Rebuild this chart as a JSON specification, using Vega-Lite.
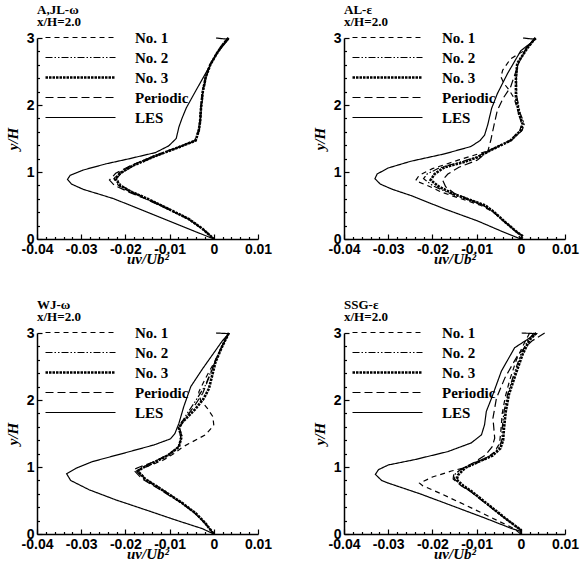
{
"$schema": "https://vega.github.io/schema/vega-lite/v6.json",
"background": "white",
"padding": {"left": 5, "top": 4, "right": 5, "bottom": 2},
"config": {
  "view": {"stroke": null},
  "axis": {"grid": false, "domainColor": "black", "domainWidth": 1.5, "tickColor": "black", "tickWidth": 1.2,
    "labelFont": "Liberation Sans", "labelFontWeight": "bold", "labelFontSize": 14, "labelColor": "black", "labelOverlap": false, "labelFlush": false,
    "titleFont": "Liberation Serif", "titleFontStyle": "italic", "titleFontWeight": "bold", "titleFontSize": 15, "titleColor": "black"},
  "title": {"anchor": "start", "frame": "group", "font": "Liberation Serif", "fontWeight": "bold", "fontSize": 13, "lineHeight": 12, "offset": 1, "color": "black"}
},
"datasets": {"d": [
{"p":"A","s":"LES","x":0.0005,"y":3.0},{"p":"A","s":"LES","x":0.0033,"y":2.98},{"p":"A","s":"LES","x":0.0008,"y":2.78},{"p":"A","s":"LES","x":-0.0011,"y":2.56},{"p":"A","s":"LES","x":-0.0041,"y":2.21},{"p":"A","s":"LES","x":-0.0062,"y":1.96},{"p":"A","s":"LES","x":-0.0072,"y":1.8},{"p":"A","s":"LES","x":-0.0079,"y":1.67},{"p":"A","s":"LES","x":-0.0085,"y":1.5},{"p":"A","s":"LES","x":-0.0102,"y":1.39},{"p":"A","s":"LES","x":-0.0132,"y":1.29},{"p":"A","s":"LES","x":-0.019,"y":1.2},{"p":"A","s":"LES","x":-0.0245,"y":1.12},{"p":"A","s":"LES","x":-0.0295,"y":1.03},{"p":"A","s":"LES","x":-0.0325,"y":0.95},{"p":"A","s":"LES","x":-0.0331,"y":0.89},{"p":"A","s":"LES","x":-0.0322,"y":0.82},{"p":"A","s":"LES","x":-0.0295,"y":0.74},{"p":"A","s":"LES","x":-0.0255,"y":0.66},{"p":"A","s":"LES","x":-0.0226,"y":0.6},{"p":"A","s":"LES","x":-0.0188,"y":0.5},{"p":"A","s":"LES","x":-0.0141,"y":0.375},{"p":"A","s":"LES","x":-0.0094,"y":0.25},{"p":"A","s":"LES","x":-0.0047,"y":0.125},{"p":"A","s":"LES","x":0,"y":0},
{"p":"A","s":"No. 3","x":0.0033,"y":3.0},{"p":"A","s":"No. 3","x":0.0018,"y":2.88},{"p":"A","s":"No. 3","x":0.0006,"y":2.76},{"p":"A","s":"No. 3","x":-0.0008,"y":2.6},{"p":"A","s":"No. 3","x":-0.0018,"y":2.42},{"p":"A","s":"No. 3","x":-0.0025,"y":2.2},{"p":"A","s":"No. 3","x":-0.0029,"y":1.95},{"p":"A","s":"No. 3","x":-0.0031,"y":1.75},{"p":"A","s":"No. 3","x":-0.0034,"y":1.62},{"p":"A","s":"No. 3","x":-0.0041,"y":1.47},{"p":"A","s":"No. 3","x":-0.0079,"y":1.37},{"p":"A","s":"No. 3","x":-0.0132,"y":1.24},{"p":"A","s":"No. 3","x":-0.0185,"y":1.09},{"p":"A","s":"No. 3","x":-0.0212,"y":0.98},{"p":"A","s":"No. 3","x":-0.0223,"y":0.9},{"p":"A","s":"No. 3","x":-0.0212,"y":0.8},{"p":"A","s":"No. 3","x":-0.0185,"y":0.7},{"p":"A","s":"No. 3","x":-0.015,"y":0.6},{"p":"A","s":"No. 3","x":-0.0109,"y":0.47},{"p":"A","s":"No. 3","x":-0.0057,"y":0.3},{"p":"A","s":"No. 3","x":-0.0025,"y":0.15},{"p":"A","s":"No. 3","x":0,"y":0},
{"p":"A","s":"No. 1","x":0.0033,"y":3.0},{"p":"A","s":"No. 1","x":0.0017,"y":2.88},{"p":"A","s":"No. 1","x":0.0005,"y":2.76},{"p":"A","s":"No. 1","x":-0.0009,"y":2.6},{"p":"A","s":"No. 1","x":-0.0019,"y":2.42},{"p":"A","s":"No. 1","x":-0.0026,"y":2.2},{"p":"A","s":"No. 1","x":-0.003,"y":1.95},{"p":"A","s":"No. 1","x":-0.0032,"y":1.75},{"p":"A","s":"No. 1","x":-0.0035,"y":1.62},{"p":"A","s":"No. 1","x":-0.0043,"y":1.47},{"p":"A","s":"No. 1","x":-0.0082,"y":1.37},{"p":"A","s":"No. 1","x":-0.0135,"y":1.24},{"p":"A","s":"No. 1","x":-0.0188,"y":1.09},{"p":"A","s":"No. 1","x":-0.0216,"y":0.98},{"p":"A","s":"No. 1","x":-0.0226,"y":0.9},{"p":"A","s":"No. 1","x":-0.0216,"y":0.8},{"p":"A","s":"No. 1","x":-0.0188,"y":0.7},{"p":"A","s":"No. 1","x":-0.0153,"y":0.6},{"p":"A","s":"No. 1","x":-0.0111,"y":0.47},{"p":"A","s":"No. 1","x":-0.0058,"y":0.3},{"p":"A","s":"No. 1","x":-0.0026,"y":0.15},{"p":"A","s":"No. 1","x":0,"y":0},
{"p":"A","s":"No. 2","x":0.0033,"y":3.0},{"p":"A","s":"No. 2","x":0.0018,"y":2.88},{"p":"A","s":"No. 2","x":0.0006,"y":2.76},{"p":"A","s":"No. 2","x":-0.0008,"y":2.6},{"p":"A","s":"No. 2","x":-0.0017,"y":2.42},{"p":"A","s":"No. 2","x":-0.0024,"y":2.2},{"p":"A","s":"No. 2","x":-0.0028,"y":1.95},{"p":"A","s":"No. 2","x":-0.003,"y":1.75},{"p":"A","s":"No. 2","x":-0.0033,"y":1.62},{"p":"A","s":"No. 2","x":-0.004,"y":1.47},{"p":"A","s":"No. 2","x":-0.0078,"y":1.37},{"p":"A","s":"No. 2","x":-0.013,"y":1.24},{"p":"A","s":"No. 2","x":-0.0183,"y":1.09},{"p":"A","s":"No. 2","x":-0.021,"y":0.98},{"p":"A","s":"No. 2","x":-0.022,"y":0.9},{"p":"A","s":"No. 2","x":-0.021,"y":0.8},{"p":"A","s":"No. 2","x":-0.0184,"y":0.7},{"p":"A","s":"No. 2","x":-0.0149,"y":0.6},{"p":"A","s":"No. 2","x":-0.0108,"y":0.47},{"p":"A","s":"No. 2","x":-0.0056,"y":0.3},{"p":"A","s":"No. 2","x":-0.0024,"y":0.15},{"p":"A","s":"No. 2","x":0,"y":0},
{"p":"A","s":"Periodic","x":0.0033,"y":3.0},{"p":"A","s":"Periodic","x":0.0018,"y":2.88},{"p":"A","s":"Periodic","x":0.0005,"y":2.76},{"p":"A","s":"Periodic","x":-0.0008,"y":2.6},{"p":"A","s":"Periodic","x":-0.0018,"y":2.42},{"p":"A","s":"Periodic","x":-0.0025,"y":2.2},{"p":"A","s":"Periodic","x":-0.0029,"y":1.95},{"p":"A","s":"Periodic","x":-0.0031,"y":1.75},{"p":"A","s":"Periodic","x":-0.0034,"y":1.62},{"p":"A","s":"Periodic","x":-0.0042,"y":1.47},{"p":"A","s":"Periodic","x":-0.008,"y":1.37},{"p":"A","s":"Periodic","x":-0.0134,"y":1.24},{"p":"A","s":"Periodic","x":-0.019,"y":1.09},{"p":"A","s":"Periodic","x":-0.0222,"y":0.98},{"p":"A","s":"Periodic","x":-0.0236,"y":0.88},{"p":"A","s":"Periodic","x":-0.0225,"y":0.8},{"p":"A","s":"Periodic","x":-0.0192,"y":0.7},{"p":"A","s":"Periodic","x":-0.0155,"y":0.6},{"p":"A","s":"Periodic","x":-0.0112,"y":0.47},{"p":"A","s":"Periodic","x":-0.0058,"y":0.3},{"p":"A","s":"Periodic","x":-0.0025,"y":0.15},{"p":"A","s":"Periodic","x":0,"y":0},

{"p":"B","s":"LES","x":0.0005,"y":3.0},{"p":"B","s":"LES","x":0.0033,"y":2.98},{"p":"B","s":"LES","x":0.0,"y":2.81},{"p":"B","s":"LES","x":-0.003,"y":2.47},{"p":"B","s":"LES","x":-0.0053,"y":2.17},{"p":"B","s":"LES","x":-0.0066,"y":1.95},{"p":"B","s":"LES","x":-0.0075,"y":1.7},{"p":"B","s":"LES","x":-0.0082,"y":1.55},{"p":"B","s":"LES","x":-0.0092,"y":1.47},{"p":"B","s":"LES","x":-0.0113,"y":1.38},{"p":"B","s":"LES","x":-0.0173,"y":1.27},{"p":"B","s":"LES","x":-0.0249,"y":1.16},{"p":"B","s":"LES","x":-0.03,"y":1.06},{"p":"B","s":"LES","x":-0.0325,"y":0.97},{"p":"B","s":"LES","x":-0.033,"y":0.9},{"p":"B","s":"LES","x":-0.0318,"y":0.82},{"p":"B","s":"LES","x":-0.029,"y":0.74},{"p":"B","s":"LES","x":-0.0249,"y":0.65},{"p":"B","s":"LES","x":-0.0173,"y":0.45},{"p":"B","s":"LES","x":-0.0098,"y":0.27},{"p":"B","s":"LES","x":-0.0045,"y":0.12},{"p":"B","s":"LES","x":0,"y":0},
{"p":"B","s":"No. 3","x":0.0033,"y":3.0},{"p":"B","s":"No. 3","x":0.0015,"y":2.85},{"p":"B","s":"No. 3","x":-0.0008,"y":2.62},{"p":"B","s":"No. 3","x":-0.0011,"y":2.4},{"p":"B","s":"No. 3","x":-0.0011,"y":2.12},{"p":"B","s":"No. 3","x":-0.0004,"y":1.87},{"p":"B","s":"No. 3","x":0.0004,"y":1.72},{"p":"B","s":"No. 3","x":0.0,"y":1.62},{"p":"B","s":"No. 3","x":-0.0023,"y":1.47},{"p":"B","s":"No. 3","x":-0.007,"y":1.32},{"p":"B","s":"No. 3","x":-0.0098,"y":1.22},{"p":"B","s":"No. 3","x":-0.0128,"y":1.15},{"p":"B","s":"No. 3","x":-0.0173,"y":1.07},{"p":"B","s":"No. 3","x":-0.0195,"y":0.97},{"p":"B","s":"No. 3","x":-0.0204,"y":0.88},{"p":"B","s":"No. 3","x":-0.0185,"y":0.78},{"p":"B","s":"No. 3","x":-0.0151,"y":0.67},{"p":"B","s":"No. 3","x":-0.0105,"y":0.56},{"p":"B","s":"No. 3","x":-0.008,"y":0.5},{"p":"B","s":"No. 3","x":-0.006,"y":0.4},{"p":"B","s":"No. 3","x":-0.0035,"y":0.25},{"p":"B","s":"No. 3","x":-0.0008,"y":0.1},{"p":"B","s":"No. 3","x":0.0005,"y":0.04},{"p":"B","s":"No. 3","x":0,"y":0},
{"p":"B","s":"No. 2","x":0.0033,"y":3.0},{"p":"B","s":"No. 2","x":0.0014,"y":2.85},{"p":"B","s":"No. 2","x":-0.0007,"y":2.62},{"p":"B","s":"No. 2","x":-0.001,"y":2.4},{"p":"B","s":"No. 2","x":-0.0009,"y":2.12},{"p":"B","s":"No. 2","x":-0.0001,"y":1.87},{"p":"B","s":"No. 2","x":0.0008,"y":1.72},{"p":"B","s":"No. 2","x":0.0003,"y":1.62},{"p":"B","s":"No. 2","x":-0.0022,"y":1.47},{"p":"B","s":"No. 2","x":-0.0071,"y":1.32},{"p":"B","s":"No. 2","x":-0.0102,"y":1.22},{"p":"B","s":"No. 2","x":-0.0135,"y":1.15},{"p":"B","s":"No. 2","x":-0.0185,"y":1.06},{"p":"B","s":"No. 2","x":-0.0212,"y":0.97},{"p":"B","s":"No. 2","x":-0.022,"y":0.9},{"p":"B","s":"No. 2","x":-0.0198,"y":0.79},{"p":"B","s":"No. 2","x":-0.016,"y":0.68},{"p":"B","s":"No. 2","x":-0.0112,"y":0.57},{"p":"B","s":"No. 2","x":-0.0083,"y":0.5},{"p":"B","s":"No. 2","x":-0.0061,"y":0.4},{"p":"B","s":"No. 2","x":-0.0035,"y":0.25},{"p":"B","s":"No. 2","x":-0.0008,"y":0.1},{"p":"B","s":"No. 2","x":0.0005,"y":0.04},{"p":"B","s":"No. 2","x":0,"y":0},
{"p":"B","s":"No. 1","x":0.0033,"y":3.0},{"p":"B","s":"No. 1","x":0.0005,"y":2.8},{"p":"B","s":"No. 1","x":-0.0023,"y":2.69},{"p":"B","s":"No. 1","x":-0.0041,"y":2.52},{"p":"B","s":"No. 1","x":-0.0045,"y":2.42},{"p":"B","s":"No. 1","x":-0.0038,"y":2.32},{"p":"B","s":"No. 1","x":-0.0026,"y":2.22},{"p":"B","s":"No. 1","x":-0.0015,"y":2.1},{"p":"B","s":"No. 1","x":-0.0006,"y":1.9},{"p":"B","s":"No. 1","x":0.0002,"y":1.72},{"p":"B","s":"No. 1","x":-0.0002,"y":1.62},{"p":"B","s":"No. 1","x":-0.0025,"y":1.47},{"p":"B","s":"No. 1","x":-0.0072,"y":1.32},{"p":"B","s":"No. 1","x":-0.014,"y":1.18},{"p":"B","s":"No. 1","x":-0.02,"y":1.05},{"p":"B","s":"No. 1","x":-0.023,"y":0.95},{"p":"B","s":"No. 1","x":-0.0238,"y":0.87},{"p":"B","s":"No. 1","x":-0.0205,"y":0.78},{"p":"B","s":"No. 1","x":-0.018,"y":0.7},{"p":"B","s":"No. 1","x":-0.0135,"y":0.6},{"p":"B","s":"No. 1","x":-0.009,"y":0.5},{"p":"B","s":"No. 1","x":-0.0062,"y":0.4},{"p":"B","s":"No. 1","x":-0.0036,"y":0.25},{"p":"B","s":"No. 1","x":-0.0009,"y":0.1},{"p":"B","s":"No. 1","x":0,"y":0},
{"p":"B","s":"Periodic","x":0.0033,"y":3.0},{"p":"B","s":"Periodic","x":0.0012,"y":2.85},{"p":"B","s":"Periodic","x":-0.0005,"y":2.62},{"p":"B","s":"Periodic","x":-0.0023,"y":2.27},{"p":"B","s":"Periodic","x":-0.004,"y":2.1},{"p":"B","s":"Periodic","x":-0.0053,"y":1.92},{"p":"B","s":"Periodic","x":-0.006,"y":1.72},{"p":"B","s":"Periodic","x":-0.0068,"y":1.47},{"p":"B","s":"Periodic","x":-0.0075,"y":1.3},{"p":"B","s":"Periodic","x":-0.0098,"y":1.18},{"p":"B","s":"Periodic","x":-0.014,"y":1.07},{"p":"B","s":"Periodic","x":-0.0165,"y":0.97},{"p":"B","s":"Periodic","x":-0.0177,"y":0.88},{"p":"B","s":"Periodic","x":-0.017,"y":0.78},{"p":"B","s":"Periodic","x":-0.015,"y":0.68},{"p":"B","s":"Periodic","x":-0.0112,"y":0.58},{"p":"B","s":"Periodic","x":-0.0085,"y":0.5},{"p":"B","s":"Periodic","x":-0.0061,"y":0.4},{"p":"B","s":"Periodic","x":-0.0035,"y":0.25},{"p":"B","s":"Periodic","x":-0.0009,"y":0.1},{"p":"B","s":"Periodic","x":0,"y":0},

{"p":"C","s":"LES","x":0.0005,"y":3.0},{"p":"C","s":"LES","x":0.0034,"y":2.99},{"p":"C","s":"LES","x":0.0019,"y":2.88},{"p":"C","s":"LES","x":-0.0011,"y":2.6},{"p":"C","s":"LES","x":-0.0025,"y":2.47},{"p":"C","s":"LES","x":-0.0052,"y":2.2},{"p":"C","s":"LES","x":-0.0068,"y":1.9},{"p":"C","s":"LES","x":-0.0079,"y":1.65},{"p":"C","s":"LES","x":-0.0088,"y":1.5},{"p":"C","s":"LES","x":-0.0098,"y":1.42},{"p":"C","s":"LES","x":-0.0135,"y":1.33},{"p":"C","s":"LES","x":-0.0207,"y":1.2},{"p":"C","s":"LES","x":-0.0275,"y":1.08},{"p":"C","s":"LES","x":-0.0312,"y":0.98},{"p":"C","s":"LES","x":-0.0333,"y":0.9},{"p":"C","s":"LES","x":-0.0324,"y":0.8},{"p":"C","s":"LES","x":-0.0282,"y":0.66},{"p":"C","s":"LES","x":-0.0222,"y":0.51},{"p":"C","s":"LES","x":-0.0154,"y":0.36},{"p":"C","s":"LES","x":-0.0087,"y":0.21},{"p":"C","s":"LES","x":-0.0026,"y":0.08},{"p":"C","s":"LES","x":0,"y":0},
{"p":"C","s":"No. 3","x":0.0034,"y":3.0},{"p":"C","s":"No. 3","x":0.0019,"y":2.8},{"p":"C","s":"No. 3","x":0.0004,"y":2.57},{"p":"C","s":"No. 3","x":-0.0011,"y":2.17},{"p":"C","s":"No. 3","x":-0.0023,"y":2.02},{"p":"C","s":"No. 3","x":-0.0041,"y":1.87},{"p":"C","s":"No. 3","x":-0.0071,"y":1.67},{"p":"C","s":"No. 3","x":-0.0079,"y":1.58},{"p":"C","s":"No. 3","x":-0.0073,"y":1.45},{"p":"C","s":"No. 3","x":-0.0079,"y":1.3},{"p":"C","s":"No. 3","x":-0.0102,"y":1.18},{"p":"C","s":"No. 3","x":-0.0132,"y":1.08},{"p":"C","s":"No. 3","x":-0.016,"y":0.99},{"p":"C","s":"No. 3","x":-0.0172,"y":0.94},{"p":"C","s":"No. 3","x":-0.0155,"y":0.82},{"p":"C","s":"No. 3","x":-0.0117,"y":0.66},{"p":"C","s":"No. 3","x":-0.0071,"y":0.46},{"p":"C","s":"No. 3","x":-0.0041,"y":0.31},{"p":"C","s":"No. 3","x":-0.0019,"y":0.16},{"p":"C","s":"No. 3","x":0,"y":0},
{"p":"C","s":"No. 2","x":0.0034,"y":3.0},{"p":"C","s":"No. 2","x":0.0015,"y":2.75},{"p":"C","s":"No. 2","x":-0.0005,"y":2.45},{"p":"C","s":"No. 2","x":-0.0019,"y":2.22},{"p":"C","s":"No. 2","x":-0.004,"y":2.0},{"p":"C","s":"No. 2","x":-0.006,"y":1.8},{"p":"C","s":"No. 2","x":-0.0079,"y":1.6},{"p":"C","s":"No. 2","x":-0.0075,"y":1.45},{"p":"C","s":"No. 2","x":-0.008,"y":1.3},{"p":"C","s":"No. 2","x":-0.0103,"y":1.18},{"p":"C","s":"No. 2","x":-0.0134,"y":1.08},{"p":"C","s":"No. 2","x":-0.0163,"y":0.99},{"p":"C","s":"No. 2","x":-0.0175,"y":0.94},{"p":"C","s":"No. 2","x":-0.0157,"y":0.82},{"p":"C","s":"No. 2","x":-0.0118,"y":0.66},{"p":"C","s":"No. 2","x":-0.0072,"y":0.46},{"p":"C","s":"No. 2","x":-0.0042,"y":0.31},{"p":"C","s":"No. 2","x":-0.0019,"y":0.16},{"p":"C","s":"No. 2","x":0,"y":0},
{"p":"C","s":"No. 1","x":0.0034,"y":3.0},{"p":"C","s":"No. 1","x":0.0015,"y":2.75},{"p":"C","s":"No. 1","x":0.0,"y":2.55},{"p":"C","s":"No. 1","x":-0.0019,"y":2.32},{"p":"C","s":"No. 1","x":-0.0034,"y":2.12},{"p":"C","s":"No. 1","x":-0.003,"y":2.0},{"p":"C","s":"No. 1","x":-0.0015,"y":1.88},{"p":"C","s":"No. 1","x":-0.0002,"y":1.75},{"p":"C","s":"No. 1","x":0.0,"y":1.62},{"p":"C","s":"No. 1","x":-0.0019,"y":1.48},{"p":"C","s":"No. 1","x":-0.0056,"y":1.35},{"p":"C","s":"No. 1","x":-0.007,"y":1.3},{"p":"C","s":"No. 1","x":-0.009,"y":1.2},{"p":"C","s":"No. 1","x":-0.0115,"y":1.1},{"p":"C","s":"No. 1","x":-0.015,"y":1.01},{"p":"C","s":"No. 1","x":-0.017,"y":0.96},{"p":"C","s":"No. 1","x":-0.0158,"y":0.84},{"p":"C","s":"No. 1","x":-0.012,"y":0.68},{"p":"C","s":"No. 1","x":-0.0073,"y":0.47},{"p":"C","s":"No. 1","x":-0.0042,"y":0.31},{"p":"C","s":"No. 1","x":-0.002,"y":0.16},{"p":"C","s":"No. 1","x":0,"y":0},
{"p":"C","s":"Periodic","x":0.0034,"y":3.0},{"p":"C","s":"Periodic","x":0.0018,"y":2.8},{"p":"C","s":"Periodic","x":0.0002,"y":2.55},{"p":"C","s":"Periodic","x":-0.0013,"y":2.3},{"p":"C","s":"Periodic","x":-0.0025,"y":2.1},{"p":"C","s":"Periodic","x":-0.0045,"y":1.9},{"p":"C","s":"Periodic","x":-0.0068,"y":1.7},{"p":"C","s":"Periodic","x":-0.0077,"y":1.58},{"p":"C","s":"Periodic","x":-0.0072,"y":1.45},{"p":"C","s":"Periodic","x":-0.008,"y":1.3},{"p":"C","s":"Periodic","x":-0.0105,"y":1.18},{"p":"C","s":"Periodic","x":-0.0135,"y":1.08},{"p":"C","s":"Periodic","x":-0.0168,"y":1.0},{"p":"C","s":"Periodic","x":-0.0182,"y":0.96},{"p":"C","s":"Periodic","x":-0.0162,"y":0.82},{"p":"C","s":"Periodic","x":-0.0121,"y":0.66},{"p":"C","s":"Periodic","x":-0.0073,"y":0.46},{"p":"C","s":"Periodic","x":-0.0043,"y":0.31},{"p":"C","s":"Periodic","x":-0.002,"y":0.16},{"p":"C","s":"Periodic","x":0,"y":0},

{"p":"D","s":"LES","x":0.0002,"y":3.0},{"p":"D","s":"LES","x":0.0035,"y":2.99},{"p":"D","s":"LES","x":-0.0014,"y":2.78},{"p":"D","s":"LES","x":-0.0044,"y":2.43},{"p":"D","s":"LES","x":-0.0066,"y":2.03},{"p":"D","s":"LES","x":-0.0078,"y":1.83},{"p":"D","s":"LES","x":-0.0082,"y":1.63},{"p":"D","s":"LES","x":-0.0089,"y":1.48},{"p":"D","s":"LES","x":-0.0112,"y":1.36},{"p":"D","s":"LES","x":-0.0165,"y":1.23},{"p":"D","s":"LES","x":-0.024,"y":1.11},{"p":"D","s":"LES","x":-0.03,"y":1.03},{"p":"D","s":"LES","x":-0.0322,"y":0.96},{"p":"D","s":"LES","x":-0.0329,"y":0.89},{"p":"D","s":"LES","x":-0.0315,"y":0.8},{"p":"D","s":"LES","x":-0.03,"y":0.76},{"p":"D","s":"LES","x":-0.0228,"y":0.6},{"p":"D","s":"LES","x":-0.0163,"y":0.44},{"p":"D","s":"LES","x":-0.0082,"y":0.24},{"p":"D","s":"LES","x":-0.002,"y":0.08},{"p":"D","s":"LES","x":0,"y":0.04},{"p":"D","s":"LES","x":0,"y":0},
{"p":"D","s":"No. 3","x":0.0035,"y":3.0},{"p":"D","s":"No. 3","x":0.002,"y":2.9},{"p":"D","s":"No. 3","x":0.0004,"y":2.68},{"p":"D","s":"No. 3","x":-0.0012,"y":2.38},{"p":"D","s":"No. 3","x":-0.0027,"y":2.08},{"p":"D","s":"No. 3","x":-0.0034,"y":1.83},{"p":"D","s":"No. 3","x":-0.0038,"y":1.58},{"p":"D","s":"No. 3","x":-0.004,"y":1.4},{"p":"D","s":"No. 3","x":-0.0046,"y":1.28},{"p":"D","s":"No. 3","x":-0.0064,"y":1.17},{"p":"D","s":"No. 3","x":-0.0095,"y":1.08},{"p":"D","s":"No. 3","x":-0.0125,"y":0.99},{"p":"D","s":"No. 3","x":-0.0142,"y":0.88},{"p":"D","s":"No. 3","x":-0.0145,"y":0.81},{"p":"D","s":"No. 3","x":-0.013,"y":0.72},{"p":"D","s":"No. 3","x":-0.0112,"y":0.64},{"p":"D","s":"No. 3","x":-0.0074,"y":0.44},{"p":"D","s":"No. 3","x":-0.0036,"y":0.24},{"p":"D","s":"No. 3","x":0,"y":0.06},{"p":"D","s":"No. 3","x":0,"y":0},
{"p":"D","s":"No. 2","x":0.003,"y":3.0},{"p":"D","s":"No. 2","x":0.0015,"y":2.88},{"p":"D","s":"No. 2","x":0.0,"y":2.68},{"p":"D","s":"No. 2","x":-0.0016,"y":2.38},{"p":"D","s":"No. 2","x":-0.003,"y":2.08},{"p":"D","s":"No. 2","x":-0.0038,"y":1.83},{"p":"D","s":"No. 2","x":-0.0042,"y":1.58},{"p":"D","s":"No. 2","x":-0.0043,"y":1.4},{"p":"D","s":"No. 2","x":-0.005,"y":1.28},{"p":"D","s":"No. 2","x":-0.0068,"y":1.17},{"p":"D","s":"No. 2","x":-0.0098,"y":1.08},{"p":"D","s":"No. 2","x":-0.0128,"y":0.99},{"p":"D","s":"No. 2","x":-0.0148,"y":0.9},{"p":"D","s":"No. 2","x":-0.015,"y":0.82},{"p":"D","s":"No. 2","x":-0.0133,"y":0.72},{"p":"D","s":"No. 2","x":-0.0114,"y":0.64},{"p":"D","s":"No. 2","x":-0.0076,"y":0.44},{"p":"D","s":"No. 2","x":-0.0037,"y":0.24},{"p":"D","s":"No. 2","x":0,"y":0.06},{"p":"D","s":"No. 2","x":0,"y":0},
{"p":"D","s":"Periodic","x":0.0054,"y":3.0},{"p":"D","s":"Periodic","x":0.0025,"y":2.88},{"p":"D","s":"Periodic","x":-0.0006,"y":2.68},{"p":"D","s":"Periodic","x":-0.0036,"y":2.33},{"p":"D","s":"Periodic","x":-0.0055,"y":2.03},{"p":"D","s":"Periodic","x":-0.0063,"y":1.73},{"p":"D","s":"Periodic","x":-0.006,"y":1.5},{"p":"D","s":"Periodic","x":-0.0059,"y":1.43},{"p":"D","s":"Periodic","x":-0.0065,"y":1.3},{"p":"D","s":"Periodic","x":-0.008,"y":1.18},{"p":"D","s":"Periodic","x":-0.0105,"y":1.07},{"p":"D","s":"Periodic","x":-0.0135,"y":0.97},{"p":"D","s":"Periodic","x":-0.0152,"y":0.88},{"p":"D","s":"Periodic","x":-0.0153,"y":0.82},{"p":"D","s":"Periodic","x":-0.0135,"y":0.72},{"p":"D","s":"Periodic","x":-0.0115,"y":0.64},{"p":"D","s":"Periodic","x":-0.0076,"y":0.44},{"p":"D","s":"Periodic","x":-0.0037,"y":0.24},{"p":"D","s":"Periodic","x":0,"y":0.06},{"p":"D","s":"Periodic","x":0,"y":0},
{"p":"D","s":"No. 1","x":0.002,"y":3.0},{"p":"D","s":"No. 1","x":0.0008,"y":2.85},{"p":"D","s":"No. 1","x":-0.001,"y":2.6},{"p":"D","s":"No. 1","x":-0.0025,"y":2.3},{"p":"D","s":"No. 1","x":-0.0035,"y":2.05},{"p":"D","s":"No. 1","x":-0.0042,"y":1.8},{"p":"D","s":"No. 1","x":-0.0045,"y":1.55},{"p":"D","s":"No. 1","x":-0.0048,"y":1.35},{"p":"D","s":"No. 1","x":-0.006,"y":1.22},{"p":"D","s":"No. 1","x":-0.0085,"y":1.1},{"p":"D","s":"No. 1","x":-0.012,"y":1.0},{"p":"D","s":"No. 1","x":-0.0157,"y":0.94},{"p":"D","s":"No. 1","x":-0.02,"y":0.85},{"p":"D","s":"No. 1","x":-0.0229,"y":0.76},{"p":"D","s":"No. 1","x":-0.0222,"y":0.72},{"p":"D","s":"No. 1","x":-0.018,"y":0.6},{"p":"D","s":"No. 1","x":-0.0128,"y":0.44},{"p":"D","s":"No. 1","x":-0.0065,"y":0.24},{"p":"D","s":"No. 1","x":-0.0015,"y":0.08},{"p":"D","s":"No. 1","x":0,"y":0}
]},
"data": {"name": "d"},
"columns": 2,
"spacing": {"row": 33, "column": 40},
"resolve": {"scale": {"strokeDash": "independent"}, "legend": {"strokeDash": "independent"}},
"concat": [
 {"width": 221, "height": 201, "title": {"text": ["A,JL-ω", "x/H=2.0"]},
  "transform": [{"filter": "datum.p === 'A'"}],
  "resolve": {"axis": {"x": "independent", "y": "independent"}},
  "layer": [
   {"mark": {"type": "line", "color": "black", "strokeCap": "butt"},
    "encoding": {
     "x": {"field": "x", "type": "quantitative", "scale": {"domain": [-0.04, 0.01], "nice": false, "zero": false},
       "axis": {"orient": "bottom", "values": [-0.04, -0.03, -0.02, -0.01, 0, 0.01], "tickSize": -5, "labelPadding": 8, "labelExpr": "replace(format(datum.value, '~g'), '−', '-')", "title": "uv/Ub²", "titlePadding": -5}},
     "y": {"field": "y", "type": "quantitative", "scale": {"domain": [0, 3], "nice": false},
       "axis": {"orient": "left", "values": [0, 1, 2, 3], "tickSize": -5, "labelPadding": 8, "title": "y/H", "titlePadding": 6}},
     "strokeDash": {"field": "s", "type": "nominal", "scale": {"domain": ["No. 1", "No. 2", "No. 3", "Periodic", "LES"], "range": [[5, 4], [7, 2, 1.5, 2, 1.5, 2], [2.5, 1], [8, 4], [1, 0]]},
       "legend": {"orient": "none", "legendX": 36, "legendY": -8, "title": null, "symbolType": "M-7,0H7", "symbolSize": 100, "symbolStrokeColor": "black", "symbolStrokeWidth": 1.2, "labelFont": "Liberation Serif", "labelFontWeight": "bold", "labelFontSize": 15, "labelColor": "black", "labelOffset": 47, "rowPadding": 4,
        "encode": {"symbols": {"update": {"strokeWidth": {"signal": "datum.value === 'No. 3' ? 2.6 : 1.2"}}}}}},
     "strokeWidth": {"condition": {"test": "datum.s === 'No. 3'", "value": 2.6}, "value": 1.2},
     "order": {"value": null}
    }},
   {"mark": {"type": "line", "strokeOpacity": 0},
    "encoding": {
     "x": {"field": "x", "type": "quantitative", "axis": {"orient": "bottom", "values": [-0.038,-0.036,-0.034,-0.032,-0.028,-0.026,-0.024,-0.022,-0.018,-0.016,-0.014,-0.012,-0.008,-0.006,-0.004,-0.002,0.002,0.004,0.006,0.008], "tickSize": -2.5, "labels": false, "domain": false, "title": null}},
     "y": {"field": "y", "type": "quantitative", "axis": {"orient": "left", "values": [0.2,0.4,0.6,0.8,1.2,1.4,1.6,1.8,2.2,2.4,2.6,2.8], "tickSize": -2.5, "labels": false, "domain": false, "title": null}},
     "detail": {"field": "s"},
     "order": {"value": null}
    }}
  ]},
 {"width": 221, "height": 201, "title": {"text": ["AL-ε", "x/H=2.0"]},
  "transform": [{"filter": "datum.p === 'B'"}],
  "resolve": {"axis": {"x": "independent", "y": "independent"}},
  "layer": [
   {"mark": {"type": "line", "color": "black", "strokeCap": "butt"},
    "encoding": {
     "x": {"field": "x", "type": "quantitative", "scale": {"domain": [-0.04, 0.01], "nice": false, "zero": false},
       "axis": {"orient": "bottom", "values": [-0.04, -0.03, -0.02, -0.01, 0, 0.01], "tickSize": -5, "labelPadding": 8, "labelExpr": "replace(format(datum.value, '~g'), '−', '-')", "title": "uv/Ub²", "titlePadding": -5}},
     "y": {"field": "y", "type": "quantitative", "scale": {"domain": [0, 3], "nice": false},
       "axis": {"orient": "left", "values": [0, 1, 2, 3], "tickSize": -5, "labelPadding": 8, "title": "y/H", "titlePadding": 6}},
     "strokeDash": {"field": "s", "type": "nominal", "scale": {"domain": ["No. 1", "No. 2", "No. 3", "Periodic", "LES"], "range": [[5, 4], [7, 2, 1.5, 2, 1.5, 2], [2.5, 1], [8, 4], [1, 0]]},
       "legend": {"orient": "none", "legendX": 36, "legendY": -8, "title": null, "symbolType": "M-7,0H7", "symbolSize": 100, "symbolStrokeColor": "black", "symbolStrokeWidth": 1.2, "labelFont": "Liberation Serif", "labelFontWeight": "bold", "labelFontSize": 15, "labelColor": "black", "labelOffset": 47, "rowPadding": 4,
        "encode": {"symbols": {"update": {"strokeWidth": {"signal": "datum.value === 'No. 3' ? 2.6 : 1.2"}}}}}},
     "strokeWidth": {"condition": {"test": "datum.s === 'No. 3'", "value": 2.6}, "value": 1.2},
     "order": {"value": null}
    }},
   {"mark": {"type": "line", "strokeOpacity": 0},
    "encoding": {
     "x": {"field": "x", "type": "quantitative", "axis": {"orient": "bottom", "values": [-0.038,-0.036,-0.034,-0.032,-0.028,-0.026,-0.024,-0.022,-0.018,-0.016,-0.014,-0.012,-0.008,-0.006,-0.004,-0.002,0.002,0.004,0.006,0.008], "tickSize": -2.5, "labels": false, "domain": false, "title": null}},
     "y": {"field": "y", "type": "quantitative", "axis": {"orient": "left", "values": [0.2,0.4,0.6,0.8,1.2,1.4,1.6,1.8,2.2,2.4,2.6,2.8], "tickSize": -2.5, "labels": false, "domain": false, "title": null}},
     "detail": {"field": "s"},
     "order": {"value": null}
    }}
  ]},
 {"width": 221, "height": 201, "title": {"text": ["WJ-ω", "x/H=2.0"]},
  "transform": [{"filter": "datum.p === 'C'"}],
  "resolve": {"axis": {"x": "independent", "y": "independent"}},
  "layer": [
   {"mark": {"type": "line", "color": "black", "strokeCap": "butt"},
    "encoding": {
     "x": {"field": "x", "type": "quantitative", "scale": {"domain": [-0.04, 0.01], "nice": false, "zero": false},
       "axis": {"orient": "bottom", "values": [-0.04, -0.03, -0.02, -0.01, 0, 0.01], "tickSize": -5, "labelPadding": 8, "labelExpr": "replace(format(datum.value, '~g'), '−', '-')", "title": "uv/Ub²", "titlePadding": -5}},
     "y": {"field": "y", "type": "quantitative", "scale": {"domain": [0, 3], "nice": false},
       "axis": {"orient": "left", "values": [0, 1, 2, 3], "tickSize": -5, "labelPadding": 8, "title": "y/H", "titlePadding": 6}},
     "strokeDash": {"field": "s", "type": "nominal", "scale": {"domain": ["No. 1", "No. 2", "No. 3", "Periodic", "LES"], "range": [[5, 4], [7, 2, 1.5, 2, 1.5, 2], [2.5, 1], [8, 4], [1, 0]]},
       "legend": {"orient": "none", "legendX": 36, "legendY": -8, "title": null, "symbolType": "M-7,0H7", "symbolSize": 100, "symbolStrokeColor": "black", "symbolStrokeWidth": 1.2, "labelFont": "Liberation Serif", "labelFontWeight": "bold", "labelFontSize": 15, "labelColor": "black", "labelOffset": 47, "rowPadding": 4,
        "encode": {"symbols": {"update": {"strokeWidth": {"signal": "datum.value === 'No. 3' ? 2.6 : 1.2"}}}}}},
     "strokeWidth": {"condition": {"test": "datum.s === 'No. 3'", "value": 2.6}, "value": 1.2},
     "order": {"value": null}
    }},
   {"mark": {"type": "line", "strokeOpacity": 0},
    "encoding": {
     "x": {"field": "x", "type": "quantitative", "axis": {"orient": "bottom", "values": [-0.038,-0.036,-0.034,-0.032,-0.028,-0.026,-0.024,-0.022,-0.018,-0.016,-0.014,-0.012,-0.008,-0.006,-0.004,-0.002,0.002,0.004,0.006,0.008], "tickSize": -2.5, "labels": false, "domain": false, "title": null}},
     "y": {"field": "y", "type": "quantitative", "axis": {"orient": "left", "values": [0.2,0.4,0.6,0.8,1.2,1.4,1.6,1.8,2.2,2.4,2.6,2.8], "tickSize": -2.5, "labels": false, "domain": false, "title": null}},
     "detail": {"field": "s"},
     "order": {"value": null}
    }}
  ]},
 {"width": 221, "height": 201, "title": {"text": ["SSG-ε", "x/H=2.0"]},
  "transform": [{"filter": "datum.p === 'D'"}],
  "resolve": {"axis": {"x": "independent", "y": "independent"}},
  "layer": [
   {"mark": {"type": "line", "color": "black", "strokeCap": "butt"},
    "encoding": {
     "x": {"field": "x", "type": "quantitative", "scale": {"domain": [-0.04, 0.01], "nice": false, "zero": false},
       "axis": {"orient": "bottom", "values": [-0.04, -0.03, -0.02, -0.01, 0, 0.01], "tickSize": -5, "labelPadding": 8, "labelExpr": "replace(format(datum.value, '~g'), '−', '-')", "title": "uv/Ub²", "titlePadding": -5}},
     "y": {"field": "y", "type": "quantitative", "scale": {"domain": [0, 3], "nice": false},
       "axis": {"orient": "left", "values": [0, 1, 2, 3], "tickSize": -5, "labelPadding": 8, "title": "y/H", "titlePadding": 6}},
     "strokeDash": {"field": "s", "type": "nominal", "scale": {"domain": ["No. 1", "No. 2", "No. 3", "Periodic", "LES"], "range": [[5, 4], [7, 2, 1.5, 2, 1.5, 2], [2.5, 1], [8, 4], [1, 0]]},
       "legend": {"orient": "none", "legendX": 36, "legendY": -8, "title": null, "symbolType": "M-7,0H7", "symbolSize": 100, "symbolStrokeColor": "black", "symbolStrokeWidth": 1.2, "labelFont": "Liberation Serif", "labelFontWeight": "bold", "labelFontSize": 15, "labelColor": "black", "labelOffset": 47, "rowPadding": 4,
        "encode": {"symbols": {"update": {"strokeWidth": {"signal": "datum.value === 'No. 3' ? 2.6 : 1.2"}}}}}},
     "strokeWidth": {"condition": {"test": "datum.s === 'No. 3'", "value": 2.6}, "value": 1.2},
     "order": {"value": null}
    }},
   {"mark": {"type": "line", "strokeOpacity": 0},
    "encoding": {
     "x": {"field": "x", "type": "quantitative", "axis": {"orient": "bottom", "values": [-0.038,-0.036,-0.034,-0.032,-0.028,-0.026,-0.024,-0.022,-0.018,-0.016,-0.014,-0.012,-0.008,-0.006,-0.004,-0.002,0.002,0.004,0.006,0.008], "tickSize": -2.5, "labels": false, "domain": false, "title": null}},
     "y": {"field": "y", "type": "quantitative", "axis": {"orient": "left", "values": [0.2,0.4,0.6,0.8,1.2,1.4,1.6,1.8,2.2,2.4,2.6,2.8], "tickSize": -2.5, "labels": false, "domain": false, "title": null}},
     "detail": {"field": "s"},
     "order": {"value": null}
    }}
  ]}
]
}
